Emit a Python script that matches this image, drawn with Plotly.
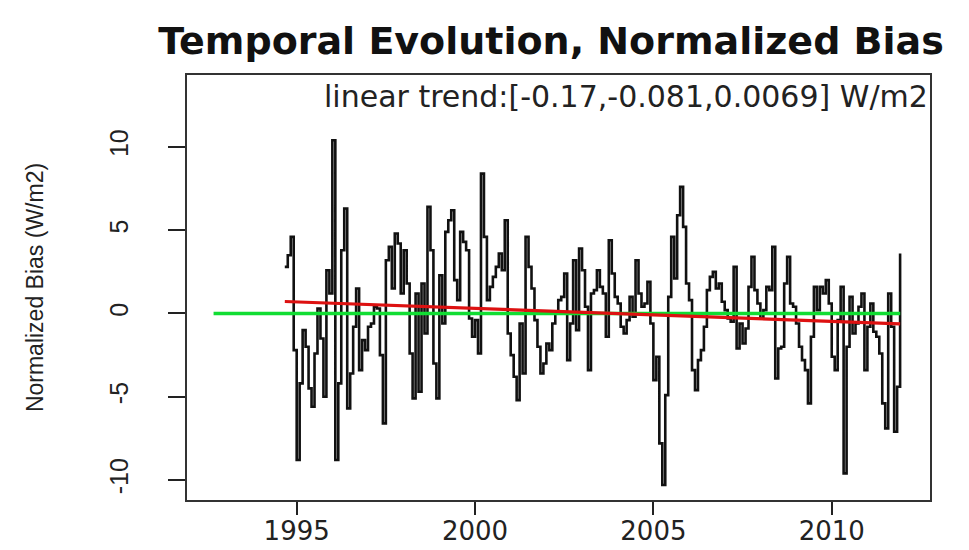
import numpy as np
import plotly.graph_objects as go

# ---- data ----
start_year = 1994
start_month = 9  # September 1994, monthly values

bias_values = [
    # Sep 1994 - Dec 1997 approx (i = 0..39)
    2.8, 3.5, 4.6, -2.2, -8.8, -4.2, -1.0, -2.0, -4.5, -5.6,
    -2.4, 0.3, -1.5, -5.0, 2.6, 1.2, 10.4, -8.8, -4.2, 3.8,
    6.3, -5.7, -3.6, -0.8, 1.5, -3.4, -1.6, -2.2, -0.8, -0.6,
    0.4, 0.3, -2.5, -6.6, 3.2, 4.0, 1.5, 4.8, 4.2, 1.2,
    # i = 40..83
    3.8, 1.8, -2.4, -5.1, 1.2, -4.7, 1.8, -1.2, 6.4, 3.8,
    -3.0, -5.1, 2.3, -0.6, 4.9, 5.6, 6.2, 2.0, 0.8, 4.9,
    4.3, 3.8, -0.3, -1.4, -0.4, -2.4, 8.4, 4.6, 0.8, 1.6,
    2.2, 2.8, 3.6, 2.6, 5.6, -1.2, -2.5, -3.8, -5.2, -0.6,
    -3.6, 4.6, 2.8, 1.5,
    # i = 84..124
    -0.4, -2.0, -3.6, -3.0, -1.8, -2.2, -0.6, 0.0, 0.8, 1.0,
    2.4, -2.8, -0.6, 3.2, -1.0, 3.9, 2.6, 0.4, -3.4, 1.2,
    1.4, 2.6, 1.6, 1.2, -1.4, 4.4, 2.4, 1.0, 0.6, -0.8,
    -1.2, -0.4, 1.0, -0.2, 3.2, 1.2, 0.4, 0.6, 1.9, -0.6,
    -4.0,
    # i = 125..166
    -2.6, -7.8, -10.3, -4.9, 1.0, 4.6, 2.1, 5.9, 7.6, 5.2,
    1.8, 0.8, -3.4, -4.6, -2.8, -2.2, -0.8, 1.4, 2.2, 2.5,
    1.5, 1.8, 0.7, 0.2, -0.3, -0.5, 2.8, -2.1, -0.6, -1.8,
    -0.9, 1.6, 3.4, 1.4, 0.6, -0.3, 0.2, 1.6, 1.4, 4.0,
    -3.9, -2.1,
    # i = 167..207
    -2.0, 1.8, 3.4, 0.6, 0.4, -0.6, -2.0, -2.8, -3.4, -5.4,
    -1.4, 1.6, 0.2, 1.6, 1.2, 2.0, 0.6, -2.6, -3.4, -0.4,
    1.6, -9.6, -2.0, 1.0, -1.2, -0.6, 0.4, 1.2, -3.4, -0.8,
    0.6, -1.1, -1.4, -2.4, -5.4, -6.9, 1.2, -0.8, -7.1, -4.4,
    3.6,
]

trend_years = [1994.667, 2011.917]
trend_values = [0.72, -0.62]

zero_years = [1992.67, 2011.92]
zero_values = [0.0, 0.0]

x_tick_values = [1995, 2000, 2005, 2010]
y_tick_values = [-10, -5, 0, 5, 10]

title_text = "Temporal Evolution, Normalized Bias"
annotation_text = "linear trend:[-0.17,-0.081,0.0069] W/m2"
y_title = "Normalized Bias (W/m2)"

# ---- derived time axis ----
years = start_year + (start_month - 1) / 12.0 + np.arange(len(bias_values)) / 12.0

# page body has an 8px margin; figure is sized to fill the rest of the window
OFF = 8
W, H = 969 - OFF, 550 - OFF

fig = go.Figure()
fig.add_trace(go.Scatter(
    x=years, y=bias_values, mode="lines",
    line=dict(color="#111111", width=2.6, shape="hv"),
    showlegend=False, hoverinfo="skip",
))
fig.add_trace(go.Scatter(
    x=zero_years, y=zero_values, mode="lines",
    line=dict(color="#11dd33", width=3.5),
    showlegend=False, hoverinfo="skip",
))
fig.add_trace(go.Scatter(
    x=trend_years, y=trend_values, mode="lines",
    line=dict(color="#dd1111", width=3.2),
    showlegend=False, hoverinfo="skip",
))

fig.update_layout(
    width=W, height=H,
    margin=dict(l=187 - OFF, r=39, t=75 - OFF, b=50, autoexpand=False),
    paper_bgcolor="white", plot_bgcolor="white",
    title=dict(
        text=title_text, x=(551 - OFF) / W, xref="container", xanchor="center",
        y=1 - (41 - OFF) / H, yref="container", yanchor="middle",
        font=dict(family="DejaVu Sans", size=38, color="#111111", weight="bold"),
    ),
    font=dict(family="DejaVu Sans", color="#222222"),
)

fig.update_xaxes(
    range=[1991.925, 2012.755], automargin=False,
    tickmode="array", tickvals=x_tick_values, ticktext=[str(v) for v in x_tick_values],
    ticks="outside", ticklen=13, tickwidth=2, tickcolor="#222222",
    ticklabelstandoff=-6,
    tickfont=dict(family="DejaVu Sans", size=26, color="#222222"),
    showline=True, linecolor="#333333", linewidth=2, mirror=True,
    showgrid=False, zeroline=False,
)
fig.update_yaxes(
    range=[-11.2, 14.32], automargin=False,
    tickmode="array", tickvals=y_tick_values, ticktext=[str(v) for v in y_tick_values],
    ticks="outside", ticklen=17, tickwidth=2, tickcolor="#222222",
    tickangle=-90, ticklabelstandoff=30,
    tickfont=dict(family="Liberation Sans", size=25, color="#222222"),
    showline=True, linecolor="#333333", linewidth=2, mirror=True,
    showgrid=False, zeroline=False,
    title=dict(text=y_title, standoff=55,
               font=dict(family="Liberation Sans", size=23, color="#222222")),
)

fig.add_annotation(
    text=annotation_text, xref="paper", yref="paper",
    x=1.0, y=(500 - 96) / 425, xanchor="right", yanchor="middle",
    showarrow=False,
    font=dict(family="DejaVu Sans", size=30, color="#222222"),
)

fig.write_html("out.html")
